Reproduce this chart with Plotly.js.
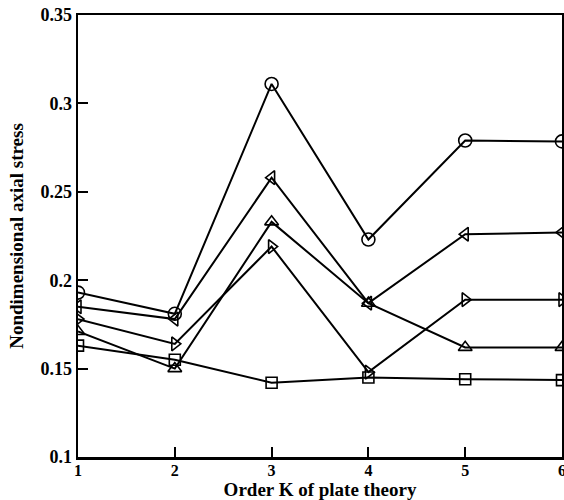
<!DOCTYPE html>
<html>
<head>
<meta charset="utf-8">
<script src="https://cdn.plot.ly/plotly-3.0.1.min.js"></script>
<style>html,body{margin:0;padding:0;background:#fff;}#chart{width:564px;height:500px;}</style>
</head>
<body>
<div id="chart"></div>
<script>
var orderK = [1, 2, 3, 4, 5, 6];
var xTickLabels = ['1', '2', '3', '4', '5', '6'];
var yTickVals = [0.1, 0.15, 0.2, 0.25, 0.3, 0.35];
var yTickLabels = ['0.1', '0.15', '0.2', '0.25', '0.3', '0.35'];

var seriesCircle = [0.193, 0.181, 0.311, 0.223, 0.279, 0.2785];
var seriesTriLeft = [0.185, 0.178, 0.258, 0.187, 0.226, 0.227];
var seriesTriUp = [0.171, 0.150, 0.233, 0.187, 0.162, 0.162];
var seriesTriRight = [0.178, 0.164, 0.219, 0.148, 0.189, 0.189];
var seriesSquare = [0.163, 0.155, 0.142, 0.145, 0.144, 0.1435];

function mk(y, sym, sz) {
  return {
    x: orderK, y: y, type: 'scatter', mode: 'lines+markers',
    line: {color: '#000', width: 2},
    marker: {symbol: sym, size: sz, color: '#000', line: {color: '#000', width: 1.6}},
    showlegend: false
  };
}
var data = [
  mk(seriesSquare, 'square-open', 11),
  mk(seriesTriRight, 'triangle-right-open', 12),
  mk(seriesTriUp, 'triangle-up-open', 12),
  mk(seriesTriLeft, 'triangle-left-open', 12),
  mk(seriesCircle, 'circle-open', 13)
];
var xTickFont = {family: 'Liberation Serif', size: 16, color: '#000', weight: 'bold'};
var yTickFont = {family: 'Liberation Serif', size: 18, color: '#000', weight: 'bold'};
var titleFont = {family: 'Liberation Serif', size: 19, color: '#000', weight: 'bold'};
var layout = {
  width: 564, height: 500,
  margin: {l: 78, r: 2, t: 15, b: 43},
  paper_bgcolor: '#fff', plot_bgcolor: '#fff',
  xaxis: {
    range: [1, 6], tickvals: orderK, ticktext: xTickLabels,
    ticks: 'inside', ticklen: 10, tickwidth: 2, tickcolor: '#000',
    showline: true, linecolor: '#000', linewidth: 2.5, mirror: true,
    showgrid: false, zeroline: false, tickfont: xTickFont,
    ticklabeloverflow: 'allow', ticklabelstandoff: -3,
    title: {text: 'Order K of plate theory', font: titleFont, standoff: 2}
  },
  yaxis: {
    range: [0.1, 0.35], tickvals: yTickVals, ticktext: yTickLabels,
    ticks: 'inside', ticklen: 10, tickwidth: 2, tickcolor: '#000',
    showline: true, linecolor: '#000', linewidth: 2.5, mirror: true,
    showgrid: false, zeroline: false, tickfont: yTickFont,
    title: {text: 'Nondimensional axial stress', font: titleFont, standoff: 12}
  }
};
Plotly.newPlot('chart', data, layout, {displayModeBar: false, staticPlot: true});
</script>
</body>
</html>
